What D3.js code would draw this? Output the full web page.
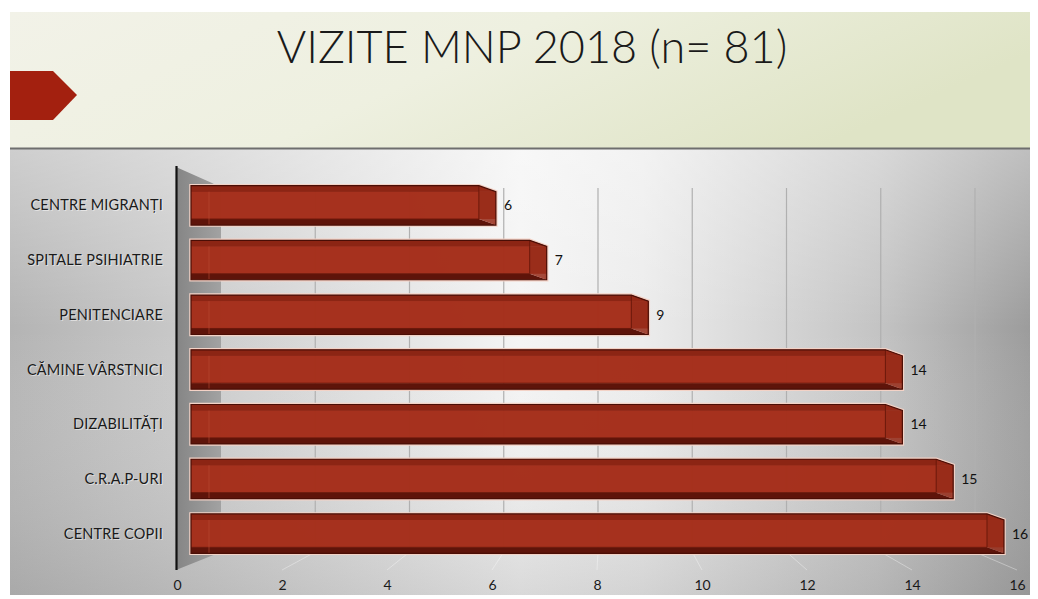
<!DOCTYPE html>
<html>
<head>
<meta charset="utf-8">
<script src="https://cdn.jsdelivr.net/npm/d3@7"></script>
<style>
  html, body { margin: 0; padding: 0; background: #fff; }
  svg { display: block; }
</style>
</head>
<body>
<div id="chart"></div>
<script>
// data
const categories = ["CENTRE MIGRANȚI", "SPITALE PSIHIATRIE", "PENITENCIARE", "CĂMINE VÂRSTNICI", "DIZABILITĂȚI", "C.R.A.P-URI", "CENTRE COPII"];
const visits = [6, 7, 9, 14, 14, 15, 16];
const tickValues = [0, 2, 4, 6, 8, 10, 12, 14, 16];
const title = "VIZITE MNP 2018 (n= 81)";

let svgWidth = 1038;
let svgHeight = 599;

let svg = d3.select("#chart")
    .append("svg")
    .attr("width", svgWidth)
    .attr("height", svgHeight);

let defs = svg.append("defs");

// header background
let hdr = defs.append("linearGradient").attr("id", "hdr")
    .attr("x1", "0").attr("y1", "0").attr("x2", "1").attr("y2", "0.3");
hdr.append("stop").attr("offset", "0").attr("stop-color", "#f2f2e8");
hdr.append("stop").attr("offset", "0.5").attr("stop-color", "#eef0e0");
hdr.append("stop").attr("offset", "1").attr("stop-color", "#dfe4c6");

// grey plot background: horizontal light band in the middle
let bg = defs.append("linearGradient").attr("id", "bg")
    .attr("x1", "0").attr("y1", "0").attr("x2", "1").attr("y2", "0");
bg.append("stop").attr("offset", "0").attr("stop-color", "#b4b4b4");
bg.append("stop").attr("offset", "0.18").attr("stop-color", "#cacaca");
bg.append("stop").attr("offset", "0.5").attr("stop-color", "#f4f4f4");
bg.append("stop").attr("offset", "0.62").attr("stop-color", "#ececec");
bg.append("stop").attr("offset", "0.85").attr("stop-color", "#c4c4c4");
bg.append("stop").attr("offset", "1").attr("stop-color", "#9c9c9c");

let shade = defs.append("linearGradient").attr("id", "shade")
    .attr("x1", "0").attr("y1", "0").attr("x2", "0").attr("y2", "1");
shade.append("stop").attr("offset", "0").attr("stop-color", "#fff").attr("stop-opacity", 0.35);
shade.append("stop").attr("offset", "0.4").attr("stop-color", "#fff").attr("stop-opacity", 0);
shade.append("stop").attr("offset", "1").attr("stop-color", "#888").attr("stop-opacity", 0.25);

let wallGrad = defs.append("linearGradient").attr("id", "wall")
    .attr("x1", "0").attr("y1", "0").attr("x2", "1").attr("y2", "0");
wallGrad.append("stop").attr("offset", "0").attr("stop-color", "#858585");
wallGrad.append("stop").attr("offset", "1").attr("stop-color", "#a2a2a2");

svg.append("rect")
    .attr("x", 10).attr("y", 12).attr("width", 1020).attr("height", 137)
    .attr("fill", "url(#hdr)");

svg.append("rect")
    .attr("x", 10).attr("y", 149).attr("width", 1020).attr("height", 446)
    .attr("fill", "url(#bg)");
svg.append("rect")
    .attr("x", 10).attr("y", 149).attr("width", 1020).attr("height", 446)
    .attr("fill", "url(#shade)");

svg.append("line")
    .attr("x1", 10).attr("x2", 1030).attr("y1", 148.5).attr("y2", 148.5)
    .attr("stroke", "#6e6e6e").attr("stroke-width", 2);

// red arrow marker
svg.append("path")
    .attr("d", "M10,71 L53,71 L77,95 L53,120 L10,120 Z")
    .attr("fill", "#a3200f");

svg.append("text")
    .attr("x", 532).attr("y", 63)
    .attr("text-anchor", "middle")
    .attr("font-family", "Lato, 'Noto Sans', sans-serif")
    .attr("font-weight", 300)
    .attr("font-size", "45px")
    .attr("fill", "#1a1a1a")
    .text(title);

// scales: front face of bars, back wall gridlines, floor front edge (tick labels)
let xFront = d3.scaleLinear().domain([0, 16]).range([191, 1004]);
let xBack = d3.scaleLinear().domain([0, 16]).range([221, 975]);
let xFloor = d3.scaleLinear().domain([0, 16]).range([177, 1017]);
let y = d3.scaleBand().domain(categories).range([178, 561]).paddingInner(0.28).paddingOuter(0.14);

let backTop = 188, backBottom = 552, floorFront = 570;

// gridlines on back wall and faint floor lines
let grid = svg.append("g");
grid.selectAll("line.v")
    .data(tickValues.slice(1))
    .enter().append("line")
    .attr("class", "v")
    .attr("x1", d => xBack(d)).attr("x2", d => xBack(d))
    .attr("y1", backTop).attr("y2", backBottom)
    .attr("stroke", "#b0b0b0").attr("stroke-width", 1.2);
grid.selectAll("line.f")
    .data(tickValues.slice(1))
    .enter().append("line")
    .attr("class", "f")
    .attr("x1", d => xBack(d)).attr("x2", d => xFloor(d))
    .attr("y1", backBottom).attr("y2", floorFront)
    .attr("stroke", "#ffffff").attr("stroke-opacity", 0.35).attr("stroke-width", 1);

// left wall
svg.append("path")
    .attr("d", `M176,167 L212,183 L221,${backTop} L221,${backBottom} L176,${floorFront} Z`)
    .attr("fill", "url(#wall)");
svg.append("line")
    .attr("x1", 176.5).attr("x2", 176.5).attr("y1", 166).attr("y2", floorFront)
    .attr("stroke", "#111").attr("stroke-width", 2.2);

// 3D bars
let dx = 17, dy = 6;
let barH = y.bandwidth() - dy;
let bars = svg.selectAll("g.bar")
    .data(categories.map((c, i) => ({ cat: c, v: visits[i] })))
    .enter().append("g")
    .attr("class", "bar");

// light halo
bars.append("path")
    .attr("d", d => {
        let x0 = xFront(0), x1 = xFront(d.v), t = y(d.cat);
        return `M${x0},${t} L${x1 - dx},${t} L${x1},${t + dy} L${x1},${t + barH + dy} L${x0},${t + barH + dy} Z`;
    })
    .attr("fill", "none").attr("stroke", "#f3d2c6").attr("stroke-width", 3.5);
// back face
bars.append("rect")
    .attr("x", xFront(0)).attr("y", d => y(d.cat))
    .attr("width", d => xFront(d.v) - dx - xFront(0)).attr("height", barH)
    .attr("fill", "#8e2212").attr("opacity", 0.9);
// bottom face
bars.append("path")
    .attr("d", d => {
        let x0 = xFront(0), x1 = xFront(d.v), t = y(d.cat);
        return `M${x0},${t + barH} L${x1 - dx},${t + barH} L${x1},${t + barH + dy} L${x0},${t + barH + dy} Z`;
    })
    .attr("fill", "#5e140a");
// front face
bars.append("rect")
    .attr("x", xFront(0)).attr("y", d => y(d.cat) + dy)
    .attr("width", d => xFront(d.v) - xFront(0)).attr("height", barH - dy)
    .attr("fill", "#a6321d").attr("opacity", 0.95);
// top face
bars.append("path")
    .attr("d", d => {
        let x0 = xFront(0), x1 = xFront(d.v), t = y(d.cat);
        return `M${x0},${t} L${x1 - dx},${t} L${x1},${t + dy} L${x0},${t + dy} Z`;
    })
    .attr("fill", "#8c2514");
// right end face
bars.append("path")
    .attr("d", d => {
        let x1 = xFront(d.v), t = y(d.cat);
        return `M${x1 - dx},${t} L${x1},${t + dy} L${x1},${t + barH + dy} L${x1 - dx},${t + barH} Z`;
    })
    .attr("fill", "#962a17").attr("opacity", 0.85);
// inner back edges seen through the box
bars.append("path")
    .attr("d", d => {
        let x1 = xFront(d.v), t = y(d.cat);
        return `M${xFront(0)},${t + barH} L${x1 - dx},${t + barH} L${x1 - dx},${t}`;
    })
    .attr("fill", "none").attr("stroke", "#6a180b").attr("stroke-width", 1);
bars.append("line")
    .attr("x1", 209).attr("x2", 209)
    .attr("y1", d => y(d.cat) + dy).attr("y2", d => y(d.cat) + barH + dy)
    .attr("stroke", "#b84a34").attr("stroke-width", 1).attr("opacity", 0.6);
// outline
bars.append("path")
    .attr("d", d => {
        let x0 = xFront(0), x1 = xFront(d.v), t = y(d.cat);
        return `M${x0},${t} L${x1 - dx},${t} L${x1},${t + dy} L${x1},${t + barH + dy} L${x0},${t + barH + dy} Z`;
    })
    .attr("fill", "none").attr("stroke", "#4a0e06").attr("stroke-width", 1.2);

// value labels
bars.append("text")
    .attr("x", d => xFront(d.v) + 8)
    .attr("y", d => y(d.cat) + y.bandwidth() / 2 + 5)
    .attr("font-family", "Lato, 'Noto Sans', sans-serif")
    .attr("font-size", "14px")
    .attr("fill", "#111")
    .text(d => d.v);

// category labels
svg.append("g").selectAll("text")
    .data(categories)
    .enter().append("text")
    .attr("x", 163)
    .attr("y", d => y(d) + y.bandwidth() / 2 + 5)
    .attr("text-anchor", "end")
    .attr("font-family", "Lato, 'Noto Sans', sans-serif")
    .attr("font-size", "14.5px")
    .attr("fill", "#1a1a1a")
    .attr("letter-spacing", "0.2px")
    .style("text-shadow", "1px 1px 0 rgba(255,255,255,0.5)")
    .text(d => d);

// x axis tick labels
let xAxis = d3.axisBottom(xFloor).tickValues(tickValues).tickSize(0).tickPadding(0);
let axisG = svg.append("g")
    .attr("transform", "translate(0, 580)")
    .call(xAxis);
axisG.select(".domain").remove();
axisG.selectAll("text")
    .attr("font-family", "Lato, 'Noto Sans', sans-serif")
    .attr("font-size", "14px")
    .attr("fill", "#1a1a1a");
</script>
</body>
</html>
